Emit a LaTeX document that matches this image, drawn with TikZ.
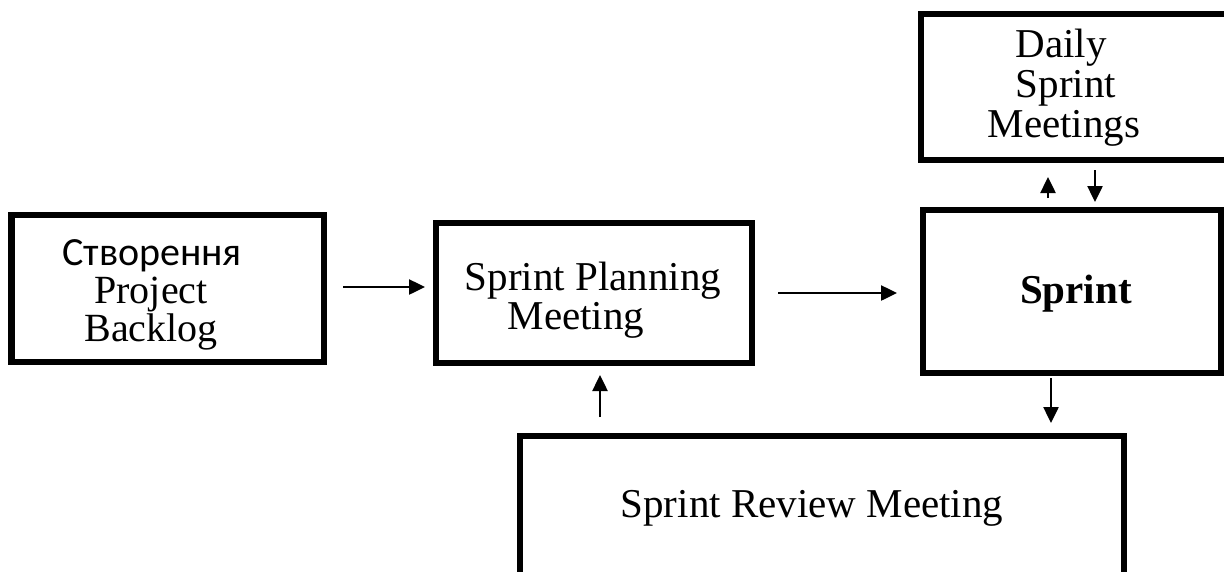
\documentclass[tikz,border=0pt]{standalone}
\usepackage{fontspec}
\setmainfont{Liberation Serif}
\newfontfamily\cyrfont{Carlito}
\usetikzlibrary{arrows.meta,calc}
\begin{document}
\begin{tikzpicture}[x=1pt,y=-1pt,
  box/.style={draw=black, line width=6.5pt, rectangle, inner sep=0pt, outer sep=0pt, anchor=north west},
  txt/.style={inner sep=0pt, anchor=base, font=\fontsize{41}{41}\selectfont},
  arr/.style={line width=2.5pt, -{Triangle[length=16pt,width=15pt]}}]
\useasboundingbox (0,0) rectangle (1224,571);
\clip (0,0) rectangle (1224,571);

% process boxes
\node[box, minimum width=312.5pt, minimum height=147pt] (backlog)  at (11.5,215) {};
\node[box, minimum width=316pt,   minimum height=140pt] (planning) at (436,223) {};
\node[box, minimum width=298pt,   minimum height=163pt] (sprint)   at (923,210) {};
\node[box, minimum width=311pt,   minimum height=146pt] (daily)    at (921,14) {};
\node[box, minimum width=604pt,   minimum height=154pt] (review)   at (520,436) {};

% box texts
\node[txt, anchor=base west, font=\cyrfont\fontsize{40}{40}\selectfont] (t1a) at (62,265) {Створення};
\node[txt, font=\fontsize{40}{40}\selectfont] (t1b) at (151,303) {Project};
\node[txt, font=\fontsize{40}{40}\selectfont] (t1c) at (151,341) {Backlog};
\node[txt] (t2a) at (593,290) {Sprint Planning};
\node[txt] (t2b) at (576,329) {Meeting};
\node[txt, font=\fontsize{41}{41}\selectfont\bfseries] (t3) at (1076,303) {Sprint};
\node[txt] (t4a) at (1061,57) {Daily};
\node[txt] (t4b) at (1066,97) {Sprint};
\node[txt] (t4c) at (1064,137) {Meetings};
\node[txt] (t5) at (812,517) {Sprint Review Meeting};

% connectors
\draw[arr] ($(backlog.east)+(19,-1.5)$) -- ($(backlog.east -| planning.west)+(-11,-1.5)$);
\draw[arr] ($(planning.east)+(26,0)$) -- ($(planning.east -| sprint.west)+(-26,0)$);
\draw[arr] ($(sprint.north)+(-24,-12)$) -- ($(sprint.north |- daily.south)+(-24,17)$);
\draw[arr] ($(sprint.north |- daily.south)+(23,10)$) -- ($(sprint.north)+(23,-8)$);
\draw[arr] ($(sprint.south)+(-21,5)$) -- ($(sprint.south |- review.north)+(-21,-13)$);
\draw[arr] ($(review.north -| planning.south)+(6,-19)$) -- ($(planning.south)+(6,12)$);
\end{tikzpicture}
\end{document}
